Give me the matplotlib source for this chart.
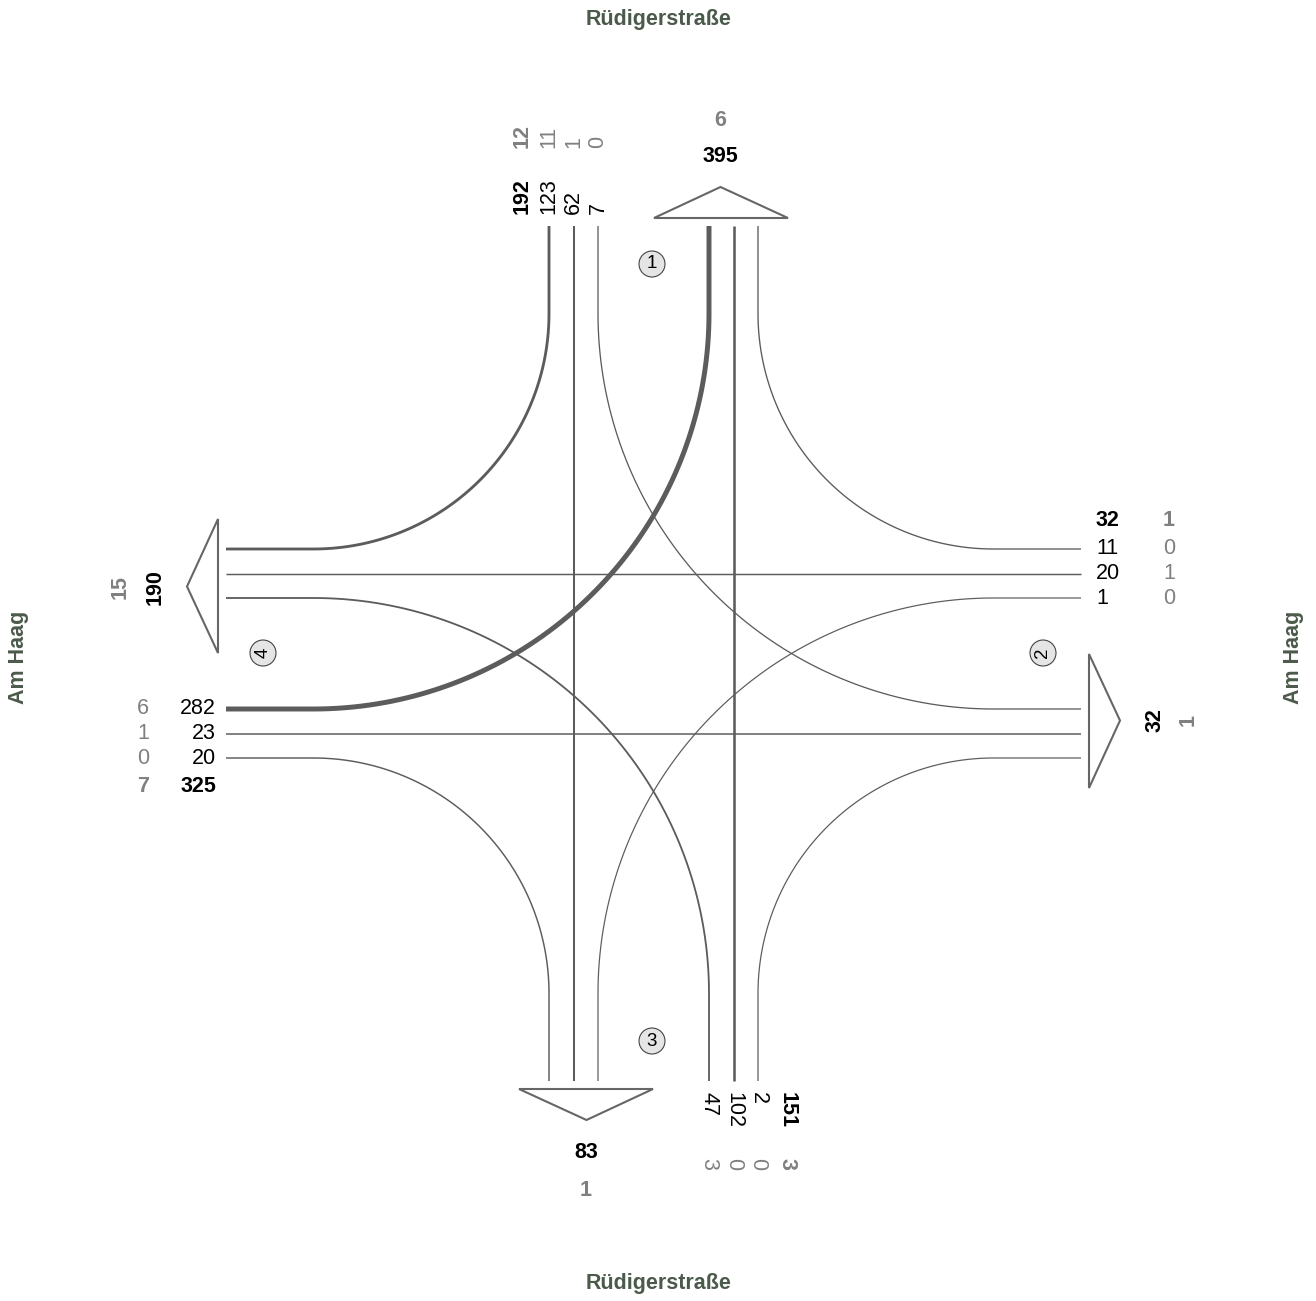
import numpy as np
import matplotlib
matplotlib.use('Agg')
import matplotlib.pyplot as plt
from matplotlib.patches import Polygon, Circle

# approach order: north, east, south, west (arm numbers 1..4)
arm_ids = ['1', '2', '3', '4']
# per approach: [right turn, straight, left turn]
vol_in = [[123, 62, 7],
          [11, 20, 1],
          [2, 102, 47],
          [20, 23, 282]]
hv_in = [[11, 1, 0],
         [0, 1, 0],
         [0, 0, 3],
         [0, 1, 6]]
street_ns = 'Rüdigerstraße'
street_ew = 'Am Haag'

plt.rcParams['font.family'] = ['Liberation Sans', 'DejaVu Sans']

W, H = 1316, 1301
fig = plt.figure(figsize=(W / 100, H / 100), dpi=100)
ax = fig.add_axes([0, 0, 1, 1])
ax.set_xlim(0, W)
ax.set_ylim(H, 0)
ax.axis('off')

C = 653.5        # centre of the junction
HB = 340.0       # half size of the box where turns happen
L = 427.5        # lane end distance from centre
off_in = [-104.5, -80.0, -55.5]
off_out = [55.5, 80.0, 104.5]
line_col = '#5c5c5c'
grey = '#808080'
street_col = '#4b5a4b'
fs = 15.5


def rot(pts, k):
    pts = np.asarray(pts, dtype=float)
    for _ in range(k):
        pts = np.column_stack([-pts[:, 1], pts[:, 0]])
    return pts


def path_north(kind):
    t = np.linspace(0, np.pi / 2, 80)
    if kind == 0:  # right turn -> west
        d = off_in[0]
        r = HB + d
        arc = np.column_stack([-HB + r * np.cos(t), -HB + r * np.sin(t)])
        return np.vstack([[d, -L], arc, [-L, d]])
    if kind == 1:  # straight
        d = off_in[1]
        return np.array([[d, -L], [d, L]])
    d = off_in[2]  # left turn -> east
    r = HB - d
    e = off_out[0]
    arc = np.column_stack([HB - r * np.cos(t), -HB + (HB + e) * np.sin(t)])
    return np.vstack([[d, -L], arc, [L, e]])


def lw(v):
    return (1.2 + v / 75.0) * 0.72


moves = []
for k in range(4):
    for m in range(3):
        moves.append((vol_in[k][m], k, m))
moves.sort()
for i, (v, k, m) in enumerate(moves):
    p = rot(path_north(m), k) + C
    ax.plot(p[:, 0], p[:, 1], color=line_col, lw=lw(v), solid_capstyle='butt',
            solid_joinstyle='round', zorder=2 + i * 0.01)

# exit arrows
arrow_n = [[0.5, -435.5], [134.5, -435.5], [67.0, -466.5]]
for k in range(4):
    p = rot(arrow_n, k) + C
    ax.add_patch(Polygon(p, closed=True, fc='white', ec='#666666', lw=1.5, zorder=3))

# arm number circles
circ_pos = [(652, 264), (1043, 653), (652, 1041), (263, 653)]
circ_rot = [0, 90, 0, 90]
for (x, y), s, r in zip(circ_pos, arm_ids, circ_rot):
    ax.add_patch(Circle((x, y), 13, fc='#e5e5e5', ec='#444444', lw=0.8, zorder=4))
    ax.text(x, y, s, fontsize=13.5, ha='center', va='center', rotation=r,
            rotation_mode='anchor', zorder=5)

# outbound totals (sum of movements leaving through each arm)
out_vol = [0, 0, 0, 0]
out_hv = [0, 0, 0, 0]
exit_of = {0: 3, 1: 2, 2: 1}   # arm offset for right / straight / left
for k in range(4):
    for m in range(3):
        j = (k + exit_of[m]) % 4
        out_vol[j] += vol_in[k][m]
        out_hv[j] += hv_in[k][m]

lanes_a = [C + o for o in off_in]    # 549, 573.5, 598
lanes_b = [C + o for o in off_out]   # 709, 733.5, 758

# north approach labels (rotated)
for x, v, h in zip(lanes_a, vol_in[0], hv_in[0]):
    ax.text(x, 214, str(v), fontsize=fs, rotation=90, rotation_mode='anchor',
            ha='left', va='center')
    ax.text(x, 148, str(h), fontsize=fs, rotation=90, rotation_mode='anchor',
            ha='left', va='center', color=grey)
ax.text(522, 214, str(sum(vol_in[0])), fontsize=fs, fontweight='bold', rotation=90,
        rotation_mode='anchor', ha='left', va='center')
ax.text(522, 148, str(sum(hv_in[0])), fontsize=fs, fontweight='bold', rotation=90,
        rotation_mode='anchor', ha='left', va='center', color=grey)

# east approach labels
for y, v, h in zip(lanes_a, vol_in[1], hv_in[1]):
    ax.text(1096, y, str(v), fontsize=fs, ha='left', va='center')
    ax.text(1163, y, str(h), fontsize=fs, ha='left', va='center', color=grey)
ax.text(1096, 521, str(sum(vol_in[1])), fontsize=fs, fontweight='bold', ha='left', va='center')
ax.text(1163, 521, str(sum(hv_in[1])), fontsize=fs, fontweight='bold', ha='left', va='center',
        color=grey)

# south approach labels (rotated 270), lanes ordered left turn .. right turn
for x, v, h in zip(lanes_b, vol_in[2][::-1], hv_in[2][::-1]):
    ax.text(x, 1092, str(v), fontsize=fs, rotation=270, rotation_mode='anchor',
            ha='left', va='center')
    ax.text(x, 1158, str(h), fontsize=fs, rotation=270, rotation_mode='anchor',
            ha='left', va='center', color=grey)
ax.text(787, 1092, str(sum(vol_in[2])), fontsize=fs, fontweight='bold', rotation=270,
        rotation_mode='anchor', ha='left', va='center')
ax.text(787, 1158, str(sum(hv_in[2])), fontsize=fs, fontweight='bold', rotation=270,
        rotation_mode='anchor', ha='left', va='center', color=grey)

# west approach labels
for y, v, h in zip(lanes_b, vol_in[3][::-1], hv_in[3][::-1]):
    ax.text(216, y, str(v), fontsize=fs, ha='right', va='center')
    ax.text(149, y, str(h), fontsize=fs, ha='right', va='center', color=grey)
ax.text(216, 787, str(sum(vol_in[3])), fontsize=fs, fontweight='bold', ha='right', va='center')
ax.text(149, 787, str(sum(hv_in[3])), fontsize=fs, fontweight='bold', ha='right', va='center',
        color=grey)

# exit totals
ax.text(720, 156, str(out_vol[0]), fontsize=fs, fontweight='bold', ha='center', va='center')
ax.text(720, 120, str(out_hv[0]), fontsize=fs, fontweight='bold', ha='center', va='center',
        color=grey)
ax.text(1155, 720, str(out_vol[1]), fontsize=fs, fontweight='bold', rotation=90,
        ha='center', va='center')
ax.text(1188, 720, str(out_hv[1]), fontsize=fs, fontweight='bold', rotation=90,
        ha='center', va='center', color=grey)
ax.text(586, 1152, str(out_vol[2]), fontsize=fs, fontweight='bold', ha='center', va='center')
ax.text(586, 1190, str(out_hv[2]), fontsize=fs, fontweight='bold', ha='center', va='center',
        color=grey)
ax.text(155, 587, str(out_vol[3]), fontsize=fs, fontweight='bold', rotation=90,
        ha='center', va='center')
ax.text(120, 587, str(out_hv[3]), fontsize=fs, fontweight='bold', rotation=90,
        ha='center', va='center', color=grey)

# street names
ax.text(659, 20, street_ns, fontsize=15.5, fontweight='bold', color=street_col,
        ha='center', va='center')
ax.text(659, 1283, street_ns, fontsize=15.5, fontweight='bold', color=street_col,
        ha='center', va='center')
ax.text(19, 657, street_ew, fontsize=15.5, fontweight='bold', color=street_col,
        rotation=90, ha='center', va='center')
ax.text(1293, 657, street_ew, fontsize=15.5, fontweight='bold', color=street_col,
        rotation=90, ha='center', va='center')

fig.savefig('out.png', dpi=100, facecolor='white')
